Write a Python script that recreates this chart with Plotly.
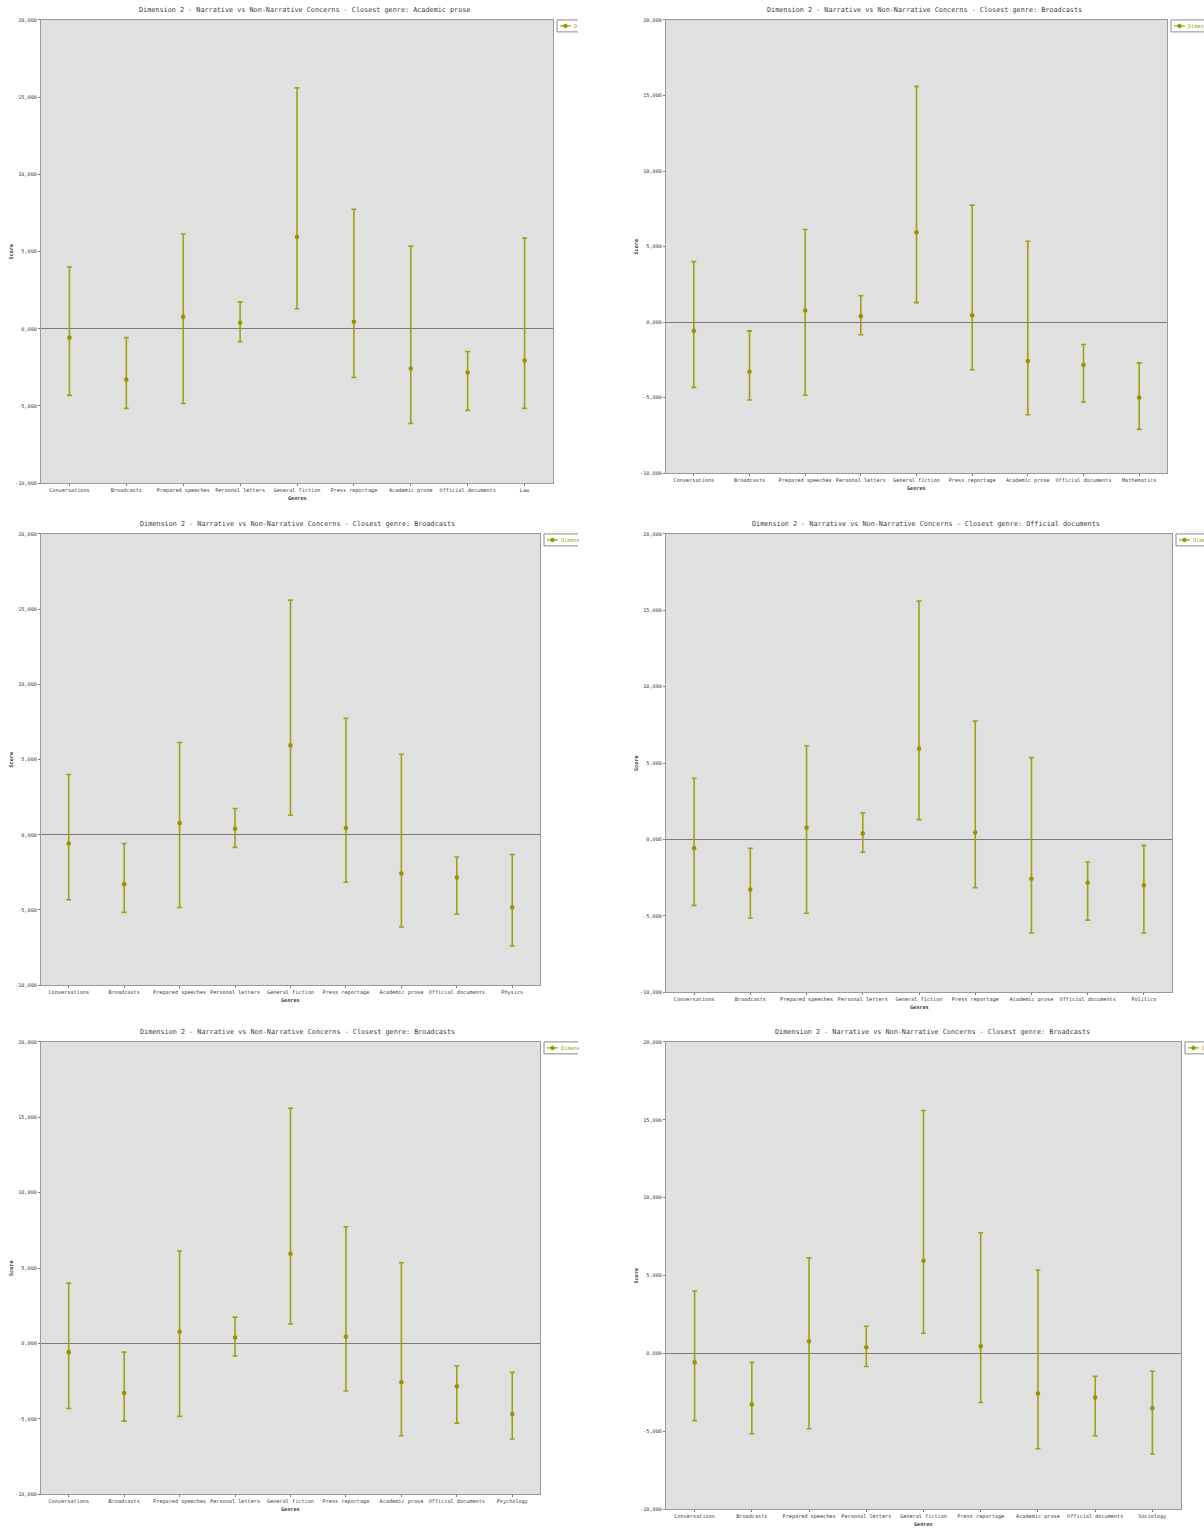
import plotly.graph_objects as go

W, H = 1204, 1531

# Shared genres and their scores (mean with low / high range)
genres = ["Conversations", "Broadcasts", "Prepared speeches", "Personal letters",
          "General fiction", "Press reportage", "Academic prose", "Official documents"]
genre_mean = [-0.58, -3.29, 0.77, 0.39, 5.94, 0.45, -2.58, -2.84]
genre_low = [-4.32, -5.16, -4.84, -0.84, 1.29, -3.16, -6.13, -5.29]
genre_high = [4.00, -0.58, 6.13, 1.74, 15.60, 7.74, 5.35, -1.48]

# Discipline compared in each chart
disciplines = ["Law", "Mathematics", "Physics", "Politics", "Psychology", "Sociology"]
disc_mean = [-2.06, -5.00, -4.83, -3.00, -4.69, -3.52]
disc_low = [-5.16, -7.10, -7.40, -6.13, -6.34, -6.46]
disc_high = [5.87, -2.70, -1.32, -0.39, -1.92, -1.15]
closest_genre = ["Academic prose", "Broadcasts", "Broadcasts",
                 "Official documents", "Broadcasts", "Broadcasts"]

series_name = "Dimension 2"
y_ticks = [-10, -5, 0, 5, 10, 15, 20]
y_tick_text = ["-10,000", "-5,000", "0,000", "5,000", "10,000", "15,000", "20,000"]

# Panel frames in pixels: plot left, right, top, bottom, image right edge
panels = [
    (41, 553, 17, 482, 578),
    (666, 1167, 17, 472, 1204),
    (41, 540, 533, 986, 578),
    (666, 1172, 533, 993, 1204),
    (41, 540, 1043, 1497, 578),
    (666, 1181, 1043, 1512, 1204),
]
title_cx = [304, 924, 297, 926, 297, 932]

MONO = "DejaVu Sans Mono"
OLIVE = "#a0a014"
OLIVE_DOT = "#959500"
TEXT = "#3a3a3a"


def px(x):
    return x / W


def py(y):
    return 1 - y / H


fig = go.Figure()
annotations = []
shapes = []

for i, (x0, x1, t, b, edge) in enumerate(panels):
    n = "" if i == 0 else str(i + 1)
    cats = genres + [disciplines[i]]
    mean = genre_mean + [disc_mean[i]]
    low = genre_low + [disc_low[i]]
    high = genre_high + [disc_high[i]]
    fig.add_trace(go.Scatter(
        x=cats, y=mean, mode="markers", name=series_name, showlegend=False,
        marker=dict(size=4.6, color=OLIVE_DOT),
        error_y=dict(type="data", symmetric=False,
                     array=[h - m for h, m in zip(high, mean)],
                     arrayminus=[m - l for m, l in zip(mean, low)],
                     color=OLIVE, thickness=1.6, width=2.5),
        xaxis="x" + n, yaxis="y" + n,
    ))
    fig.layout["xaxis" + n] = dict(
        domain=[px(x0), px(x1)], anchor="y" + n, type="category",
        range=[-0.5, 8.5], showgrid=False, zeroline=False,
        showline=True, mirror=True, linecolor="#9a9a9a", linewidth=1,
        ticks="outside", ticklen=2, tickcolor="#7a7a7a",
        tickfont=dict(family=MONO, size=5.2, color=TEXT),
    )
    fig.layout["yaxis" + n] = dict(
        domain=[py(b), py(t)], anchor="x" + n, range=[-10, 20],
        tickvals=y_ticks, ticktext=y_tick_text, showgrid=False,
        zeroline=True, zerolinecolor="#7a7a7a", zerolinewidth=1,
        showline=True, mirror=True, linecolor="#9a9a9a", linewidth=1,
        ticks="outside", ticklen=2, tickcolor="#7a7a7a",
        tickfont=dict(family=MONO, size=5.2, color=TEXT),
    )
    # chart title
    annotations.append(dict(
        text=f"Dimension 2 - Narrative vs Non-Narrative Concerns - Closest genre: {closest_genre[i]}",
        x=px(title_cx[i]), y=py(t - 10), xref="paper", yref="paper",
        showarrow=False, xanchor="center", yanchor="middle",
        font=dict(family=MONO, size=6.8, color=TEXT),
    ))
    # axis titles
    annotations.append(dict(
        text="<b>Score</b>", x=px(x0 - 30), y=py((t + b) / 2),
        xref="paper", yref="paper", showarrow=False, textangle=-90,
        xanchor="center", yanchor="middle",
        font=dict(family=MONO, size=5.2, color=TEXT),
    ))
    annotations.append(dict(
        text="<b>Genres</b>", x=px((x0 + x1) / 2), y=py(b + 15),
        xref="paper", yref="paper", showarrow=False,
        xanchor="center", yanchor="middle",
        font=dict(family=MONO, size=5.2, color=TEXT),
    ))
    # legend box, cut off at the right edge of the chart image
    lx = x1 + 4
    shapes.append(dict(
        type="path", xref="paper", yref="paper",
        path=f"M {px(edge)},{py(t)} L {px(lx)},{py(t)} L {px(lx)},{py(t + 12)} L {px(edge)},{py(t + 12)}",
        line=dict(color="#8a8a8a", width=1), fillcolor="rgba(0,0,0,0)",
    ))
    ly = t + 6
    shapes.append(dict(
        type="line", xref="paper", yref="paper",
        x0=px(lx + 3), x1=px(min(lx + 14, edge)), y0=py(ly), y1=py(ly),
        line=dict(color=OLIVE, width=1.2),
    ))
    shapes.append(dict(
        type="circle", xref="paper", yref="paper",
        x0=px(lx + 6.5), x1=px(lx + 10.5), y0=py(ly + 2), y1=py(ly - 2),
        fillcolor=OLIVE_DOT, line=dict(color=OLIVE_DOT, width=0.5),
    ))
    room = int((edge - (lx + 15)) / 3.1)
    if room > 0:
        annotations.append(dict(
            text=series_name[:room], x=px(lx + 15), y=py(ly),
            xref="paper", yref="paper", showarrow=False,
            xanchor="left", yanchor="middle",
            font=dict(family=MONO, size=5.2, color=OLIVE),
        ))

fig.update_layout(
    width=W, height=H, margin=dict(l=0, r=0, t=0, b=0),
    paper_bgcolor="white", plot_bgcolor="#e0e0e0",
    annotations=annotations, shapes=shapes, showlegend=False,
)

fig.write_html("out.html")
